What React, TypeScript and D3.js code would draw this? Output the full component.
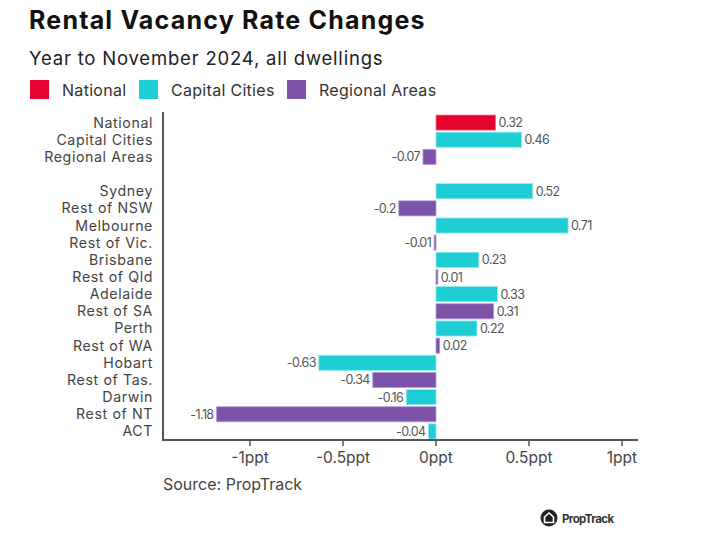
import React from "react";
import * as d3 from "d3";

const categories = [
  "National", "Capital Cities", "Regional Areas", "",
  "Sydney", "Rest of NSW", "Melbourne", "Rest of Vic.", "Brisbane", "Rest of Qld",
  "Adelaide", "Rest of SA", "Perth", "Rest of WA", "Hobart", "Rest of Tas.",
  "Darwin", "Rest of NT", "ACT",
];
const values: (number | null)[] = [
  0.32, 0.46, -0.07, null,
  0.52, -0.2, 0.71, -0.01, 0.23, 0.01,
  0.33, 0.31, 0.22, 0.02, -0.63, -0.34,
  -0.16, -1.18, -0.04,
];
const groups = [
  "National", "Capital Cities", "Regional Areas", "",
  "Capital Cities", "Regional Areas", "Capital Cities", "Regional Areas", "Capital Cities", "Regional Areas",
  "Capital Cities", "Regional Areas", "Capital Cities", "Regional Areas", "Capital Cities", "Regional Areas",
  "Capital Cities", "Regional Areas", "Capital Cities",
];
const legendItems = ["National", "Capital Cities", "Regional Areas"];
const legendColors = ["#E4032E", "#1FCED4", "#7D52A9"];
const legendStrokes = ["#F07A8E", "#8FE9EC", "#B79BD6"];
const tickValues = [-1, -0.5, 0, 0.5, 1];
const tickLabels = ["-1ppt", "-0.5ppt", "0ppt", "0.5ppt", "1ppt"];

const FONT = "Inter, 'Noto Sans', sans-serif";

export default function App() {
  const x = d3.scaleLinear().domain([-1, 1]).range([250, 622]);
  const xMin = x.invert(163);
  const xMax = x.invert(638);
  const y = d3.scaleBand<string>()
    .domain(categories.map((c, i) => i + ""))
    .range([114, 440])
    .paddingInner(0.12)
    .paddingOuter(0.06);
  const color = d3.scaleOrdinal<string, string>().domain(legendItems).range(legendColors);
  const stroke = d3.scaleOrdinal<string, string>().domain(legendItems).range(legendStrokes);

  const legendX = [30, 139, 287];

  return (
    <svg width={714} height={538} style={{ position: "absolute", left: 0, top: 0, background: "#fff" }}
      fontFamily={FONT}>
      <rect width={714} height={538} fill="#fff" />
      <text x={29} y={29} fontSize={25} fontWeight={700} fill="#111" letterSpacing={1.2}>Rental Vacancy Rate Changes</text>
      <text x={29} y={65} fontSize={18.5} fill="#222" letterSpacing={0.8}>Year to November 2024, all dwellings</text>
      {legendItems.map((l, i) => (
        <g key={l}>
          <rect x={legendX[i]} y={80} width={19} height={19} fill={legendColors[i]} />
          <text x={legendX[i] + 32} y={95.5} fontSize={16} fill="#333" letterSpacing={0.3}>{l}</text>
        </g>
      ))}
      {/* bars */}
      {values.map((v, i) => {
        if (v === null) return null;
        const yy = y(i + "")!;
        const x0 = x(Math.min(0, v));
        const x1 = x(Math.max(0, v));
        const g = groups[i];
        return (
          <g key={i}>
            <rect x={x0} y={yy} width={Math.max(x1 - x0, 1.5)} height={y.bandwidth()}
              fill={color(g)} stroke={stroke(g)} strokeWidth={0.8} />
            <text x={v >= 0 ? x1 + 3 : x0 - 3} y={yy + y.bandwidth() / 2 + 4.5}
              textAnchor={v >= 0 ? "start" : "end"} fontSize={12.5} fill="#555" letterSpacing={-0.6}>{String(v)}</text>
          </g>
        );
      })}
      {/* category labels */}
      {categories.map((c, i) => (
        <text key={"c" + i} x={153} y={y(i + "")! + y.bandwidth() / 2 + 5} textAnchor="end"
          fontSize={14.2} fill="#444" letterSpacing={0.6}>{c}</text>
      ))}
      {/* axes */}
      <line x1={x(xMin)} x2={x(xMin)} y1={112} y2={440} stroke="#555" strokeWidth={2} />
      <line x1={x(xMin) - 1} x2={x(xMax)} y1={440} y2={440} stroke="#555" strokeWidth={2} />
      {tickValues.map((t, i) => (
        <g key={t}>
          <line x1={x(t)} x2={x(t)} y1={440} y2={446} stroke="#555" strokeWidth={1.5} />
          <text x={x(t)} y={463} textAnchor="middle" fontSize={15.5} fill="#444">{tickLabels[i]}</text>
        </g>
      ))}
      <text x={163} y={490} fontSize={16} fill="#444">Source: PropTrack</text>
      {/* logo */}
      <g>
        <circle cx={549} cy={518} r={8.5} fill="#222" />
        <path d="M544.5,522.5 L544.5,517 L549,513 L553.5,517 L553.5,522.5 Z" fill="none" stroke="#fff" strokeWidth={1.6} />
        <text x={562} y={522.5} fontSize={11.5} fontWeight={700} fill="#333" letterSpacing={-0.6}>PropTrack</text>
      </g>
    </svg>
  );
}
